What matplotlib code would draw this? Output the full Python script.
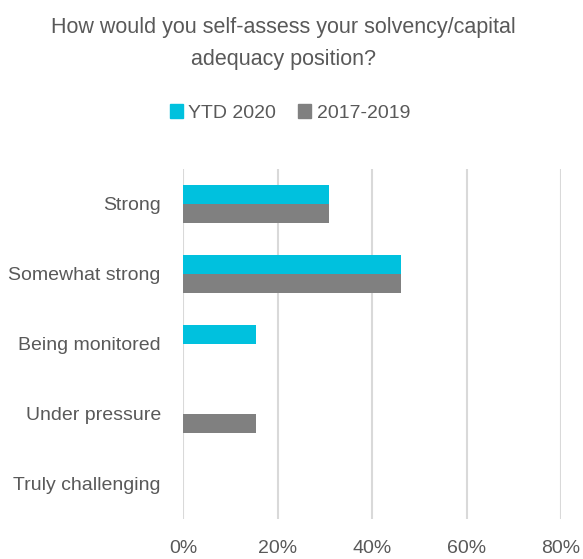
import numpy as np
import matplotlib.pyplot as plt
from matplotlib.patches import Patch

plt.rcParams['font.family'] = ['Liberation Sans', 'DejaVu Sans']

categories = ['Strong', 'Somewhat strong', 'Being monitored', 'Under pressure',
              'Truly challenging']
ytd_2020 = [30.8, 46.2, 15.4, 0.0, 0.0]
y2017_2019 = [30.8, 46.2, 0.0, 15.4, 0.0]
series_names = ['YTD 2020', '2017-2019']
xticks = [0, 20, 40, 60, 80]

TEXT = '#595959'
CYAN = '#00C1DE'
GREY = '#808080'


def main():
    fig = plt.figure(figsize=(5.83, 5.59), dpi=100)
    ax = fig.add_axes([183 / 583, 1 - 518.7 / 559, 378 / 583, 350 / 559])

    y = np.arange(len(categories))
    h = 0.27
    ax.barh(y - h / 2, ytd_2020, height=h, color=CYAN, zorder=3)
    ax.barh(y + h / 2, y2017_2019, height=h, color=GREY, zorder=3)

    ax.set_ylim(len(categories) - 0.5, -0.5)
    ax.set_yticks(y)
    ax.set_yticklabels(categories, fontsize=14, color=TEXT)
    ax.set_xlim(0, 80)
    ax.set_xticks(xticks)
    ax.set_xticklabels([f'{t}%' for t in xticks], fontsize=14, color=TEXT)
    ax.tick_params(axis='both', length=0)
    ax.tick_params(axis='x', pad=15)
    ax.tick_params(axis='y', pad=16)
    ax.grid(axis='x', color='#D9D9D9', linewidth=1.5, zorder=0)
    for s in ax.spines.values():
        s.set_visible(False)

    cx = 283.5 / 583
    fig.text(cx, 1 - 27 / 559, 'How would you self-assess your solvency/capital',
             ha='center', va='center', fontsize=15.5, color=TEXT)
    fig.text(cx, 1 - 59 / 559, 'adequacy position?',
             ha='center', va='center', fontsize=15.5, color=TEXT)

    handles = [Patch(color=CYAN), Patch(color=GREY)]
    fig.legend(handles, series_names, loc='center',
               bbox_to_anchor=(290 / 583, 1 - 113 / 559),
               ncol=2, frameon=False, fontsize=14, labelcolor=TEXT,
               handlelength=0.67, handleheight=0.67, handletextpad=0.3,
               columnspacing=1.13, borderpad=0)

    fig.savefig('out.png', dpi=100)


if __name__ == "__main__":
    main()
